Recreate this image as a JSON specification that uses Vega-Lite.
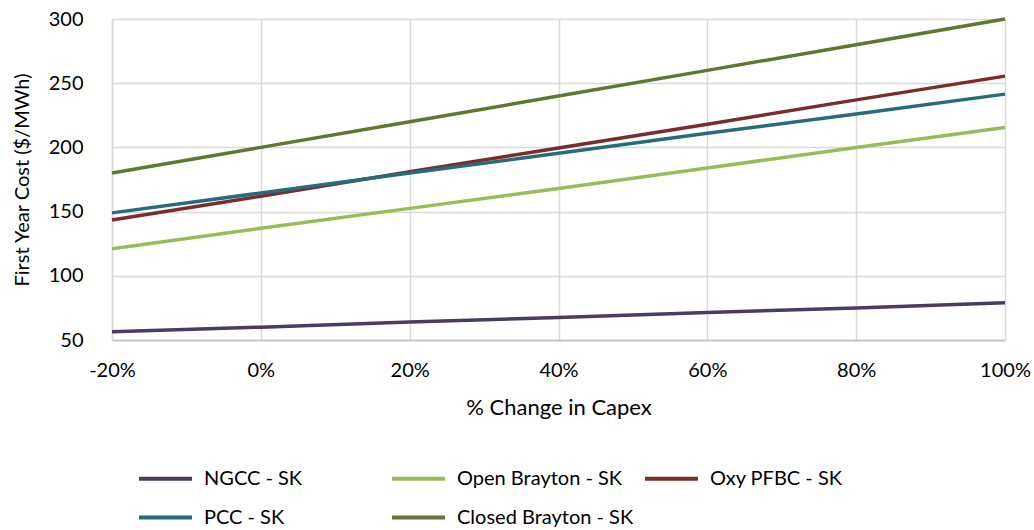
{
  "$schema": "https://vega.github.io/schema/vega-lite/v6.json",
  "width": 893,
  "height": 321,
  "autosize": {"type": "none"},
  "padding": {"left": 112, "top": 19, "right": 29, "bottom": 190},
  "background": "white",
  "config": {
    "font": "Lato",
    "view": {"stroke": null},
    "axis": {"labelFont": "Lato", "titleFont": "Lato", "labelColor": "#000000", "titleColor": "#000000", "titleFontWeight": "normal"}
  },
  "data": {
    "values": [
      {"x": -20, "y": 56.5, "s": "NGCC - SK"}, {"x": 0, "y": 60, "s": "NGCC - SK"}, {"x": 20, "y": 64, "s": "NGCC - SK"}, {"x": 40, "y": 67.5, "s": "NGCC - SK"}, {"x": 60, "y": 71.5, "s": "NGCC - SK"}, {"x": 80, "y": 75, "s": "NGCC - SK"}, {"x": 100, "y": 79, "s": "NGCC - SK"},
      {"x": -20, "y": 121, "s": "Open Brayton - SK"}, {"x": 0, "y": 137, "s": "Open Brayton - SK"}, {"x": 20, "y": 152.5, "s": "Open Brayton - SK"}, {"x": 40, "y": 168, "s": "Open Brayton - SK"}, {"x": 60, "y": 184, "s": "Open Brayton - SK"}, {"x": 80, "y": 200, "s": "Open Brayton - SK"}, {"x": 100, "y": 215.5, "s": "Open Brayton - SK"},
      {"x": -20, "y": 143.5, "s": "Oxy PFBC - SK"}, {"x": 0, "y": 162, "s": "Oxy PFBC - SK"}, {"x": 20, "y": 181, "s": "Oxy PFBC - SK"}, {"x": 40, "y": 199.5, "s": "Oxy PFBC - SK"}, {"x": 60, "y": 218, "s": "Oxy PFBC - SK"}, {"x": 80, "y": 237, "s": "Oxy PFBC - SK"}, {"x": 100, "y": 255.5, "s": "Oxy PFBC - SK"},
      {"x": -20, "y": 149, "s": "PCC - SK"}, {"x": 0, "y": 164.5, "s": "PCC - SK"}, {"x": 20, "y": 180, "s": "PCC - SK"}, {"x": 40, "y": 195.5, "s": "PCC - SK"}, {"x": 60, "y": 211, "s": "PCC - SK"}, {"x": 80, "y": 226, "s": "PCC - SK"}, {"x": 100, "y": 241.5, "s": "PCC - SK"},
      {"x": -20, "y": 180, "s": "Closed Brayton - SK"}, {"x": 0, "y": 200, "s": "Closed Brayton - SK"}, {"x": 20, "y": 220, "s": "Closed Brayton - SK"}, {"x": 40, "y": 240, "s": "Closed Brayton - SK"}, {"x": 60, "y": 260, "s": "Closed Brayton - SK"}, {"x": 80, "y": 280, "s": "Closed Brayton - SK"}, {"x": 100, "y": 300, "s": "Closed Brayton - SK"}
    ]
  },
  "mark": {"type": "line", "strokeWidth": 3.5},
  "encoding": {
    "x": {
      "field": "x", "type": "quantitative",
      "scale": {"domain": [-20, 100], "nice": false, "zero": false},
      "axis": {
        "values": [-20, 0, 20, 40, 60, 80, 100],
        "labelExpr": "datum.value + '%'",
        "labelFontSize": 20, "labelPadding": 20,
        "labelFlush": false, "labelOverlap": false, "labelBound": false,
        "ticks": false,
        "domainColor": "#BFBFBF", "domainWidth": 1.5,
        "gridColor": "#D9D9D9", "gridWidth": 1.5,
        "title": "% Change in Capex", "titleFontSize": 22, "titlePadding": 17
      }
    },
    "y": {
      "field": "y", "type": "quantitative",
      "scale": {"domain": [50, 300], "nice": false, "zero": false},
      "axis": {
        "values": [50, 100, 150, 200, 250, 300],
        "labelFontSize": 20, "labelPadding": 29,
        "labelFlush": false, "labelOverlap": false,
        "ticks": false,
        "domainColor": "#D9D9D9", "domainWidth": 1.5,
        "gridColor": "#D9D9D9", "gridWidth": 1.5,
        "title": "First Year Cost ($/MWh)", "titleFontSize": 20, "titlePadding": 16
      }
    },
    "color": {
      "field": "s", "type": "nominal",
      "sort": ["NGCC - SK", "Open Brayton - SK", "Oxy PFBC - SK", "PCC - SK", "Closed Brayton - SK"],
      "scale": {
        "domain": ["NGCC - SK", "Open Brayton - SK", "Oxy PFBC - SK", "PCC - SK", "Closed Brayton - SK"],
        "range": ["#4B3A62", "#9BBB59", "#7A2C2B", "#266C7E", "#5F7730"]
      },
      "legend": {
        "title": null,
        "orient": "none",
        "legendX": 25,
        "legendY": 431,
        "direction": "horizontal",
        "columns": 3,
        "gridAlign": "all",
        "columnPadding": 3,
        "rowPadding": -4,
        "padding": 0,
        "symbolType": "stroke",
        "symbolSize": 2809,
        "symbolStrokeWidth": 4,
        "labelFont": "Lato",
        "labelFontSize": 20,
        "labelOffset": 10,
        "labelColor": "#000000",
        "labelLimit": 300
      }
    }
  }
}
